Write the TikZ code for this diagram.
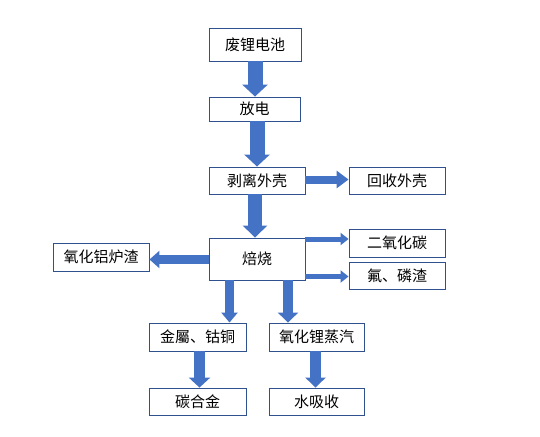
\documentclass[tikz,border=0pt]{standalone}
\usepackage{fontspec}
\newfontfamily\cjk{Noto Sans CJK SC}
\usetikzlibrary{arrows.meta}
\definecolor{ablue}{HTML}{4472C4}
\definecolor{bline}{HTML}{2F528F}
\tikzset{
  box/.style={draw=bline, line width=0.9pt, fill=white, inner sep=0pt, font=\cjk\fontsize{15}{18}\selectfont, text=black},
  barrow/.style n args={3}{draw=ablue, line width=#1, -{Triangle[width=#2,length=#3]}},
}
\begin{document}
\begin{tikzpicture}[x=1pt,y=-1pt]
\useasboundingbox (0,0) rectangle (540,436);
\fill[white] (0,0) rectangle (540,436);
\node[box, minimum width=92pt, minimum height=33pt] (fd) at (255,44.5) {废锂电池};
\node[box, minimum width=91pt, minimum height=24pt] (fd2) at (254.5,109) {放电};
\node[box, minimum width=96pt, minimum height=27pt] (bl) at (257,180.5) {剥离外壳};
\node[box, minimum width=96pt, minimum height=27pt] (hs) at (397,180.5) {回收外壳};
\node[box, minimum width=96pt, minimum height=42pt] (bs) at (257,259) {焙烧};
\node[box, minimum width=96pt, minimum height=28pt] (co) at (397,243) {二氧化碳};
\node[box, minimum width=96pt, minimum height=27pt] (fl) at (397,275.5) {氟、磷渣};
\node[box, minimum width=96pt, minimum height=28pt] (al) at (101,257) {氧化铝炉渣};
\node[box, minimum width=97pt, minimum height=28pt] (jm) at (197.5,337) {金屬、钴铜};
\node[box, minimum width=95pt, minimum height=28pt] (ly) at (316.5,337) {氧化锂蒸汽};
\node[box, minimum width=97pt, minimum height=27pt] (th) at (197.5,401.5) {碳合金};
\node[box, minimum width=95pt, minimum height=27pt] (sx) at (316.5,401.5) {水吸收};
\coordinate (bsw) at ([yshift=-0.5pt]bs.west);
\coordinate (cow) at ([yshift=4pt]co.west);
\coordinate (flw) at ([yshift=-1pt]fl.west);

\draw[barrow={15pt}{25pt}{12pt}] (fd.south) -- (fd.south |- fd2.north);
\draw[barrow={15pt}{25pt}{12pt}] (bl.north |- fd2.south) -- (bl.north);
\draw[barrow={14pt}{24pt}{12pt}] ([xshift=-2pt]bl.south) -- ([xshift=-2pt]bs.north);
\draw[barrow={8pt}{17pt}{12pt}] ([yshift=1pt]bl.east) -- ([yshift=1pt]hs.west);
\draw[barrow={5pt}{12pt}{8pt}] (bs.east |- cow) -- (cow);
\draw[barrow={5pt}{12pt}{8pt}] (bs.east |- flw) -- (flw);
\draw[barrow={9pt}{17pt}{10pt}] (bsw) -- (al.east |- bsw);
\draw[barrow={9pt}{16pt}{10pt}] ([xshift=32pt]jm.south |- bs.south) -- ([xshift=32pt]jm.north);
\draw[barrow={10pt}{20pt}{10pt}] ([xshift=-28.5pt]ly.north |- bs.south) -- ([xshift=-28.5pt]ly.north);
\draw[barrow={11pt}{21pt}{10pt}] ([xshift=2pt]jm.south) -- ([xshift=2pt]th.north);
\draw[barrow={11pt}{20pt}{10pt}] ([xshift=-1pt]ly.south) -- ([xshift=-1pt]sx.north);
\end{tikzpicture}
\end{document}
